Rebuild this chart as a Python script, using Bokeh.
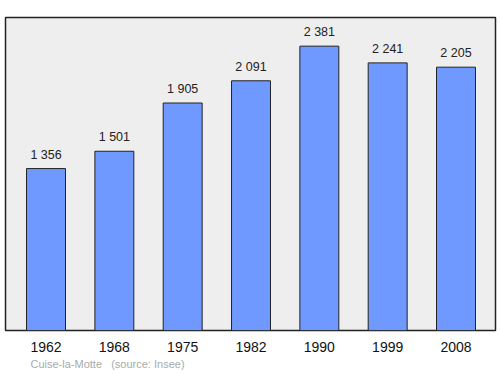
from bokeh.plotting import figure
from bokeh.models import Range1d, FixedTicker, ColumnDataSource, Title
from bokeh.core.properties import value
from bokeh.embed import file_html
from bokeh.resources import INLINE

years = ["1962", "1968", "1975", "1982", "1990", "1999", "2008"]
population = [1356, 1501, 1905, 2091, 2381, 2241, 2205]
labels = [f"{v:,}".replace(",", " ") for v in population]
xs = list(range(len(years)))

src = ColumnDataSource(dict(x=xs, top=population, label=labels))

p = figure(width=500, height=374, output_backend="svg", toolbar_location=None,
           x_range=Range1d(-0.593, 6.578), y_range=Range1d(0, 2621),
           min_border_left=5, min_border_right=5, min_border_top=17, min_border_bottom=44)
p.background_fill_color = "#eeeeee"
p.border_fill_color = "white"
p.outline_line_color = "#222222"
p.outline_line_width = 1.5
p.grid.visible = False
p.yaxis.visible = False

p.vbar(x="x", top="top", width=0.57, bottom=0, source=src,
       fill_color="#7099ff", line_color="#222222", line_width=1)
p.text(x="x", y="top", text="label", source=src, y_offset=-14,
       text_align="center", text_baseline="alphabetic",
       text_font=value("Liberation Sans"), text_font_size="12.5px", text_color="#222222")

ax = p.xaxis[0]
ax.ticker = FixedTicker(ticks=xs)
ax.major_label_overrides = {i: y for i, y in zip(xs, years)}
ax.axis_line_color = None
ax.major_tick_line_color = None
ax.minor_tick_line_color = None
ax.major_tick_out = 0
ax.major_tick_in = 0
ax.major_label_standoff = 11
ax.major_label_text_font = "Liberation Sans"
ax.major_label_text_font_size = "14px"
ax.major_label_text_color = "#111111"

footer = Title(text="Cuise-la-Motte\u00a0\u00a0\u00a0(source: Insee)", align="left", offset=25,
               text_font="Liberation Sans", text_font_size="11px",
               text_font_style="normal", text_color="#aaaaaa", standoff=2)
p.add_layout(footer, "below")

open("out.html", "w").write(file_html(p, INLINE))
